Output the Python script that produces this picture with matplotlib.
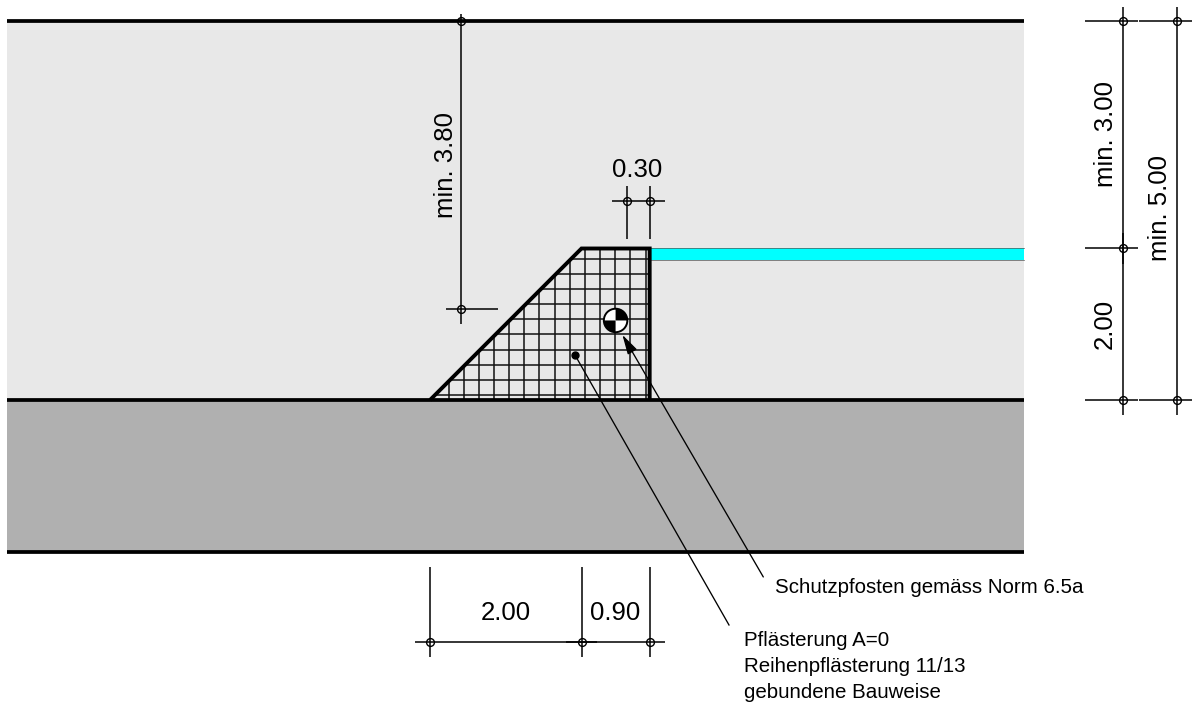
import numpy as np
import matplotlib
matplotlib.use("Agg")
import matplotlib.pyplot as plt
from matplotlib.patches import Polygon, Rectangle, Wedge, Circle

plt.rcParams['font.family'] = ['Liberation Sans', 'DejaVu Sans']

# drawing values in metres; origin = foot of the slope at road level
road_left, road_right = -5.59, 7.84
top_level, road_level, road_bottom = 5.0, 0.0, -2.0
crest_x, wall_x, crest_y = 2.0, 2.9, 2.0
strip_depth = 0.15
grid_x = np.arange(0.245, 2.9, 0.2)
grid_y = np.arange(0.066, 2.0, 0.2)

dim_vertical = [(0.41, 1.00, 5.10), (2.60, 2.125, 2.82), (2.90, 2.125, 2.82),
                (9.145, -0.20, 5.19), (9.855, -0.20, 5.19), (9.145, 1.80, 2.20),
                (0.0, -3.39, -2.205), (2.0, -3.39, -2.205), (2.9, -3.39, -2.205)]
dim_horizontal = [(1.20, 0.207, 0.90), (2.63, 2.40, 3.10),
                  (5.0, 8.65, 9.35), (5.0, 9.36, 10.06), (2.0, 8.65, 9.35),
                  (0.0, 8.65, 9.35), (0.0, 9.36, 10.06), (-3.195, -0.20, 3.10),
                  (-3.195, 1.80, 2.20)]
dim_nodes = [(0.41, 5.0), (0.41, 1.2), (2.60, 2.63), (2.90, 2.63),
             (9.145, 5.0), (9.145, 2.0), (9.145, 0.0), (9.855, 5.0), (9.855, 0.0),
             (0.0, -3.195), (2.0, -3.195), (2.9, -3.195)]

dim_labels = [("2.00", 1.0, -2.81, 0), ("0.90", 2.45, -2.81, 0), ("0.30", 2.73, 3.03, 0),
              ("min. 3.80", 0.21, 3.10, 90), ("min. 3.00", 8.93, 3.51, 90),
              ("min. 5.00", 9.64, 2.53, 90), ("2.00", 8.91, 1.0, 90)]
notes = [("Schutzpfosten gemäss Norm 6.5a", 4.56, -2.548),
         ("Pflästerung A=0", 4.14, -3.247),
         ("Reihenpflästerung 11/13", 4.14, -3.59),
         ("gebundene Bauweise", 4.14, -3.934)]
leader_x, leader_y = [1.914, 3.947], [0.594, -2.97]
arrow_tip, arrow_tail = (2.54, 0.86), (4.40, -2.336)
post_x, post_y, post_r = 2.45, 1.05, 0.155

S = 75.75
fig = plt.figure(figsize=(11.96, 7.04), dpi=100, facecolor='white')
ax = fig.add_axes([0, 0, 1, 1])
ax.set_xlim(-430 / S, (1196 - 430) / S)
ax.set_ylim((400 - 704) / S, 400 / S)
ax.axis('off')

ax.add_patch(Rectangle((road_left, road_level), road_right - road_left, top_level - road_level,
                       fc='#e8e8e8', ec='none', zorder=1))
ax.add_patch(Rectangle((road_left, road_bottom), road_right - road_left, road_level - road_bottom,
                       fc='#b0b0b0', ec='none', zorder=1))
ax.add_patch(Rectangle((wall_x, crest_y - strip_depth), road_right - wall_x, strip_depth,
                       fc='#00ffff', ec='none', zorder=2))
ax.plot([wall_x, road_right], [crest_y, crest_y], color='#555555', lw=0.5, zorder=2)
ax.plot([wall_x, road_right], [crest_y - strip_depth] * 2, color='#555555', lw=0.5, zorder=2)

clip = Polygon([(0, road_level), (crest_x, crest_y), (wall_x, crest_y), (wall_x, road_level)],
               transform=ax.transData, fc='none', ec='none')
ax.add_patch(clip)
v = ax.vlines(grid_x, road_level, crest_y, color='#111111', lw=1.1, zorder=3)
h = ax.hlines(grid_y, 0, wall_x, color='#111111', lw=1.1, zorder=3)
v.set_clip_path(clip)
h.set_clip_path(clip)

for yy in (top_level, road_level, road_bottom):
    ax.plot([road_left, road_right], [yy, yy], color='black', lw=2.7,
            solid_capstyle='butt', zorder=4)
ax.plot([0, crest_x, wall_x, wall_x], [road_level, crest_y, crest_y, road_level],
        color='black', lw=2.8, solid_joinstyle='miter', solid_capstyle='butt', zorder=5)

for xx, y0, y1 in dim_vertical:
    ax.plot([xx, xx], [y0, y1], color='black', lw=1.1, solid_capstyle='butt', zorder=6)
for yy, x0, x1 in dim_horizontal:
    ax.plot([x0, x1], [yy, yy], color='black', lw=1.1, solid_capstyle='butt', zorder=6)
nx, ny = zip(*dim_nodes)
ax.plot(nx, ny, ls='none', marker='o', ms=5.6, mfc='none', mec='black', mew=1.0, zorder=7)

ax.plot(leader_x, leader_y, color='black', lw=0.95, zorder=7)
ax.plot(leader_x[0], leader_y[0], marker='o', ms=5, color='black', zorder=7)
ax.annotate("", xy=arrow_tip, xytext=arrow_tail, zorder=7,
            arrowprops=dict(arrowstyle='-|>,head_length=0.75,head_width=0.2', color='black',
                            lw=0.95, shrinkA=0, shrinkB=0, mutation_scale=16))

ax.add_patch(Circle((post_x, post_y), post_r, fc='white', ec='none', zorder=8))
ax.add_patch(Wedge((post_x, post_y), post_r, 0, 90, fc='black', ec='none', zorder=8))
ax.add_patch(Wedge((post_x, post_y), post_r, 180, 270, fc='black', ec='none', zorder=8))
ax.add_patch(Circle((post_x, post_y), post_r, fc='none', ec='black', lw=1.4, zorder=9))

for txt, xx, yy, rot in dim_labels:
    ax.text(xx, yy, txt, fontsize=18.5, rotation=rot, ha='center', va='center',
            color='black', zorder=10)
for txt, xx, yy in notes:
    ax.text(xx, yy, txt, fontsize=14.8, ha='left', va='baseline', color='black', zorder=10)

fig.savefig('out.png', dpi=100, facecolor='white')
